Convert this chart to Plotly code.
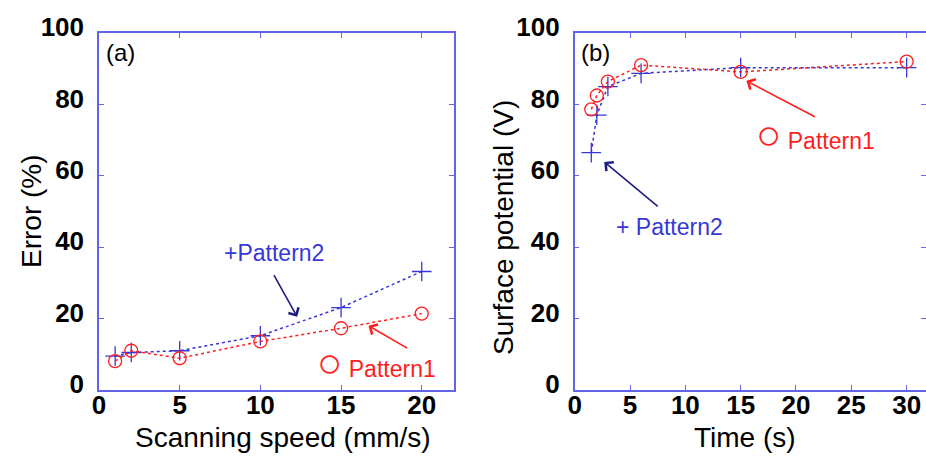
import plotly.graph_objects as go

# Panel (a): Error vs scanning speed
speed = [1, 2, 5, 10, 15, 20]
err_p1 = [8.1, 11.0, 8.9, 13.6, 17.3, 21.4]
err_p2 = [9.5, 10.5, 11.0, 15.2, 23.1, 33.2]

# Panel (b): Surface potential vs time
time_p1 = [1.5, 2, 3, 6, 15, 30]
pot_p1 = [78.6, 82.5, 86.4, 91.0, 89.1, 92.0]
time_p2 = [1.5, 2, 3, 6, 15, 30]
pot_p2 = [66.5, 77.0, 85.0, 88.7, 90.3, 90.3]

y_ticks = [0, 20, 40, 60, 80, 100]
xa_ticks = [0, 5, 10, 15, 20]
xb_ticks = [0, 5, 10, 15, 20, 25, 30]

BLUE = "rgb(55,55,215)"
RED = "rgb(255,30,30)"
NAVY = "rgb(30,30,130)"
AXC = "rgb(100,100,235)"
FONT = "Liberation Sans, Arial, sans-serif"

fig = go.Figure()

def add_series(x, y, color, symbol, size, xa, ya):
    fig.add_trace(go.Scatter(
        x=x, y=y, mode="lines+markers", xaxis=xa, yaxis=ya,
        line=dict(color=color, width=1.5, dash="dot"),
        marker=dict(symbol=symbol, size=size, color=color,
                    line=dict(color=color, width=1.3)),
        showlegend=False))

add_series(speed, err_p2, BLUE, "cross-thin-open", 14, "x", "y")
add_series(speed, err_p1, RED, "circle-open", 13, "x", "y")
add_series(time_p2, pot_p2, BLUE, "cross-thin-open", 14, "x2", "y2")
add_series(time_p1, pot_p1, RED, "circle-open", 13, "x2", "y2")

# invisible companions so the label-only x axes are drawn
for xs, ys, xa, ya in [(speed, err_p1, "x3", "y"), (time_p1, pot_p1, "x4", "y2")]:
    fig.add_trace(go.Scatter(x=xs, y=ys, xaxis=xa, yaxis=ya, mode="markers",
                             marker=dict(opacity=0), hoverinfo="skip",
                             showlegend=False))

W, H = 926, 460
dom_y = [1 - 390 / H, 1 - 33 / H]
tickfont = dict(family=FONT, size=26, color="black", weight="bold")
axis_common = dict(showline=True, linecolor=AXC, linewidth=1.5, mirror="ticks",
                   ticks="inside", ticklen=5, tickcolor=AXC, tickwidth=1.2,
                   showgrid=False, zeroline=False, automargin=False,
                   tickfont=tickfont)
# label-only x axes drawn just below the frame's bottom edge
label_axis = dict(anchor="free", position=(H - 390 + 3) / H, showline=False,
                  ticks="", showgrid=False, zeroline=False, automargin=False,
                  tickfont=tickfont)

fig.update_layout(
    width=W, height=H, margin=dict(l=0, r=0, t=0, b=0, pad=0),
    paper_bgcolor="white", plot_bgcolor="white",
    xaxis=dict(domain=[99 / W, 454 / W], range=[0, 22], tickvals=xa_ticks,
               anchor="y", showticklabels=False, **axis_common),
    yaxis=dict(domain=dom_y, range=[0, 100], tickvals=y_ticks, anchor="x",
               ticklabelstandoff=8, ticklabelshift=-6, **axis_common),
    xaxis2=dict(domain=[574.7 / W, 1.0], range=[0, 31.75], tickvals=xb_ticks,
                anchor="y2", showticklabels=False, **axis_common),
    yaxis2=dict(domain=dom_y, range=[0, 100], tickvals=y_ticks, anchor="x2",
                ticklabelstandoff=8, ticklabelshift=-6, **axis_common),
    xaxis3=dict(domain=[99 / W, 454 / W], range=[0, 22], tickvals=xa_ticks,
                overlaying="x", **label_axis),
    xaxis4=dict(domain=[574.7 / W, 1.0], range=[0, 31.75], tickvals=xb_ticks,
                overlaying="x2", **label_axis),
)

def arrow(xr, yr, x, y, ax, ay, color):
    fig.add_annotation(x=x, y=y, ax=ax, ay=ay, xref=xr, yref=yr,
                       axref=xr, ayref=yr, text="", showarrow=True,
                       arrowhead=4, arrowsize=1.4, arrowwidth=1.6,
                       arrowcolor=color)

def label(xr, yr, x, y, text, color, size=23, xanchor="center"):
    fig.add_annotation(x=x, y=y, xref=xr, yref=yr, text=text, showarrow=False,
                       xanchor=xanchor, yanchor="middle",
                       font=dict(family=FONT, size=size, color=color))

CIRC = "<span style='font-size:42px'>○</span> Pattern1"

# Panel (a) annotations
label("x", "y", 10.87, 38.5, "+Pattern2", BLUE)
arrow("x", "y", 12.28, 20.5, 10.79, 32.6, NAVY)
label("x", "y", 17.2, 7.6, CIRC, RED)
arrow("x", "y", 16.7, 18.0, 19.19, 11.5, RED)
label("x", "y", 0.3, 94.6, "(a)", "black", size=24, xanchor="left")

# Panel (b) annotations
label("x2", "y2", 21.8, 71.7, CIRC, RED)
arrow("x2", "y2", 15.52, 86.6, 21.84, 76.3, RED)
label("x2", "y2", 8.6, 45.6, "+ Pattern2", BLUE)
arrow("x2", "y2", 2.67, 63.9, 7.64, 51.1, NAVY)
label("x2", "y2", 0.4, 94.6, "(b)", "black", size=24, xanchor="left")

# Axis titles
title_font = dict(family=FONT, size=28, color="black")

def title(px, py, text, angle=0):
    fig.add_annotation(x=px / W, y=1 - py / H, xref="paper", yref="paper",
                       xanchor="center", yanchor="middle", text=text,
                       textangle=angle, showarrow=False, font=title_font)

title(283, 437, "Scanning speed (mm/s)")
title(745, 437, "Time (s)")
title(31, 211, "Error (%)", -90)
title(503, 228, "Surface potential (V)", -90)

fig.write_html("out.html")
